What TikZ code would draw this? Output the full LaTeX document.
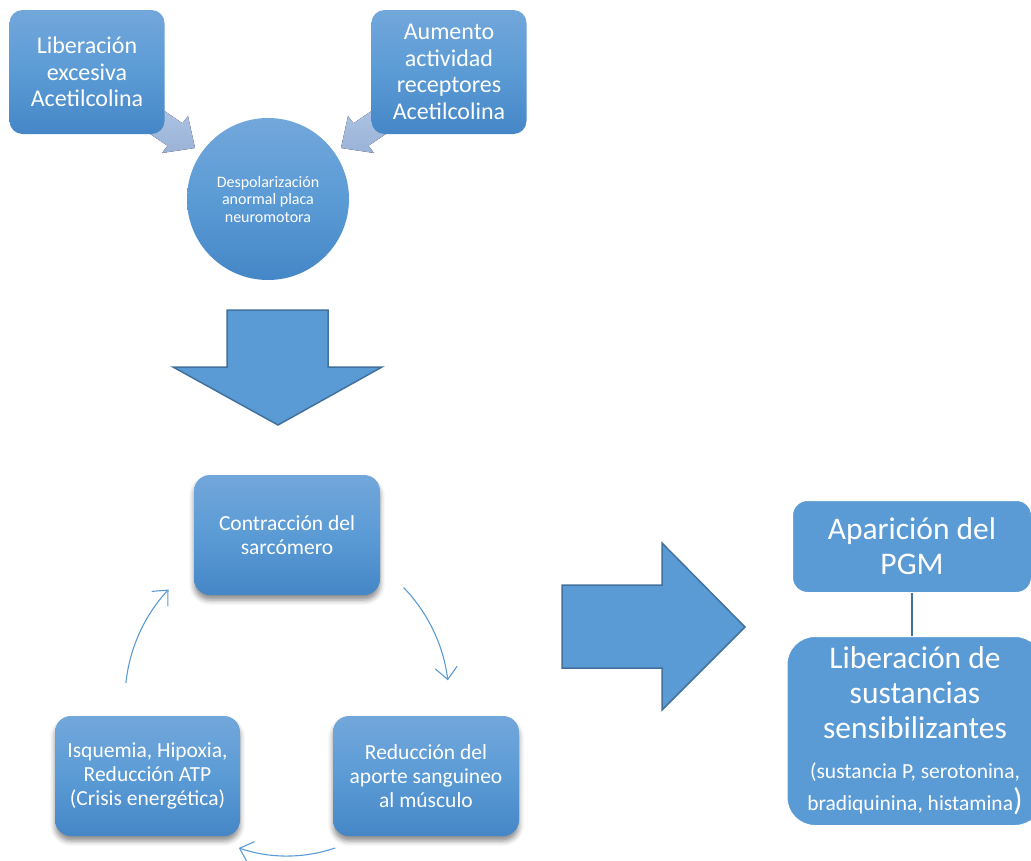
\documentclass[tikz,border=0pt]{standalone}
\usepackage{fontspec}
\setmainfont{Carlito}
\usetikzlibrary{arrows.meta,shadows.blur}
\definecolor{accent}{HTML}{5B9BD5}
\definecolor{accentdark}{HTML}{41719C}
\definecolor{gradtop}{HTML}{72A7DB}
\definecolor{gradbot}{HTML}{4586C7}
\definecolor{pale}{HTML}{B1C8E7}
\definecolor{paledark}{HTML}{9AB2D6}

\begin{document}
\begin{tikzpicture}[x=1pt, y=-1pt,
  gradfill/.style={top color=gradtop, bottom color=gradbot, middle color=accent},
  topbox/.style={gradfill, rounded corners=13pt, text=white, align=center,
    minimum width=155pt, minimum height=124pt, inner sep=0pt,
    font=\fontsize{24}{26.5}\selectfont},
  cyclebox/.style={topbox, minimum width=186pt, minimum height=120pt,
    rounded corners=16pt, font=\fontsize{21.5}{24}\selectfont,
    blur shadow={shadow xshift=0pt, shadow yshift=-5pt,
      shadow blur radius=5pt, shadow opacity=45}},
  flatbox/.style={fill=accent, draw=white, line width=1pt, text=white,
    align=center, inner sep=0pt, font=\fontsize{31.5}{35}\selectfont},
  palearrow/.style={top color=pale, bottom color=paledark},
  bigarrow/.style={fill=accent, draw=accentdark, line width=1.5pt},
  cycarrow/.style={draw=accent, line width=1.1pt,
    -{Straight Barb[length=12pt, width=22pt]}},
]
  \useasboundingbox (0,0) rectangle (1031,860);
  % pale arrows into the circle (shafts hidden under the boxes)
  \fill[palearrow] (141,95) -- (182.5,123.3) -- (188,116) -- (195,148)
    -- (162,153) -- (167.5,145.7) -- (126,117.7) -- cycle;
  \fill[palearrow] (395,95) -- (353.5,123.3) -- (348,116) -- (341,148)
    -- (374,153) -- (368.5,145.7) -- (410,117.7) -- cycle;
  % causes
  \node[topbox] (libe) at (87,72) {Liberación\\excesiva\\Acetilcolina};
  \node[topbox] (aume) at (449,72)
    {Aumento\\actividad\\receptores\\Acetilcolina};
  \node[circle, gradfill, minimum size=162pt, inner sep=0pt, text=white,
    align=center, font=\fontsize{16}{17.5}\selectfont] (desp) at (268,199)
    {Despolarización\\anormal placa\\neuromotora};
  % big down arrow
  \draw[bigarrow] (227,310) -- (328,310) -- (328,367) -- (382,367)
    -- (278,425) -- (173,367) -- (227,367) -- cycle;
  % the cycle
  \node[cyclebox] (contr) at (287,535) {Contracción del\\sarcómero};
  \node[cyclebox] (reduc) at (426,776)
    {Reducción del\\aporte sanguineo\\al músculo};
  \node[cyclebox, minimum width=185pt] (isque) at (147.5,776)
    {Isquemia, Hipoxia,\\Reducción ATP\\(Crisis energética)};
  \coordinate (cyc) at (287,700);
  \coordinate (cycb) at (287,708);
  \draw[cycarrow] ([shift={(-44:162)}]cyc)
    arc[start angle=-44, end angle=-7, radius=162];
  \draw[cycarrow] ([shift={(71:148)}]cycb)
    arc[start angle=71, end angle=109, radius=148];
  \draw[cycarrow] ([shift={(186:162)}]cyc)
    arc[start angle=186, end angle=223, radius=162];
  % big right arrow
  \draw[bigarrow] (562,585) -- (662,585) -- (662,543) -- (745,627)
    -- (662,710) -- (662,668) -- (562,668) -- cycle;
  % result
  \node[flatbox, minimum width=239pt, minimum height=92pt,
    rounded corners=15pt] (apar) at (912,546.5) {Aparición del\\PGM};
  \node[flatbox, minimum width=256pt, minimum height=189pt,
    rounded corners=28pt] (sust) at (915,731)
    {Liberación de\\sustancias\\sensibilizantes\\[5pt]%
     \fontsize{21.5}{24}\selectfont(sustancia P, serotonina,\\[-3pt]%
     \fontsize{21.5}{24}\selectfont bradiquinina, histamina%
     \fontsize{31.5}{35}\selectfont)};
  \draw[accentdark, line width=1.5pt] (apar.south) -- (apar.south |- sust.north);
\end{tikzpicture}
\end{document}
